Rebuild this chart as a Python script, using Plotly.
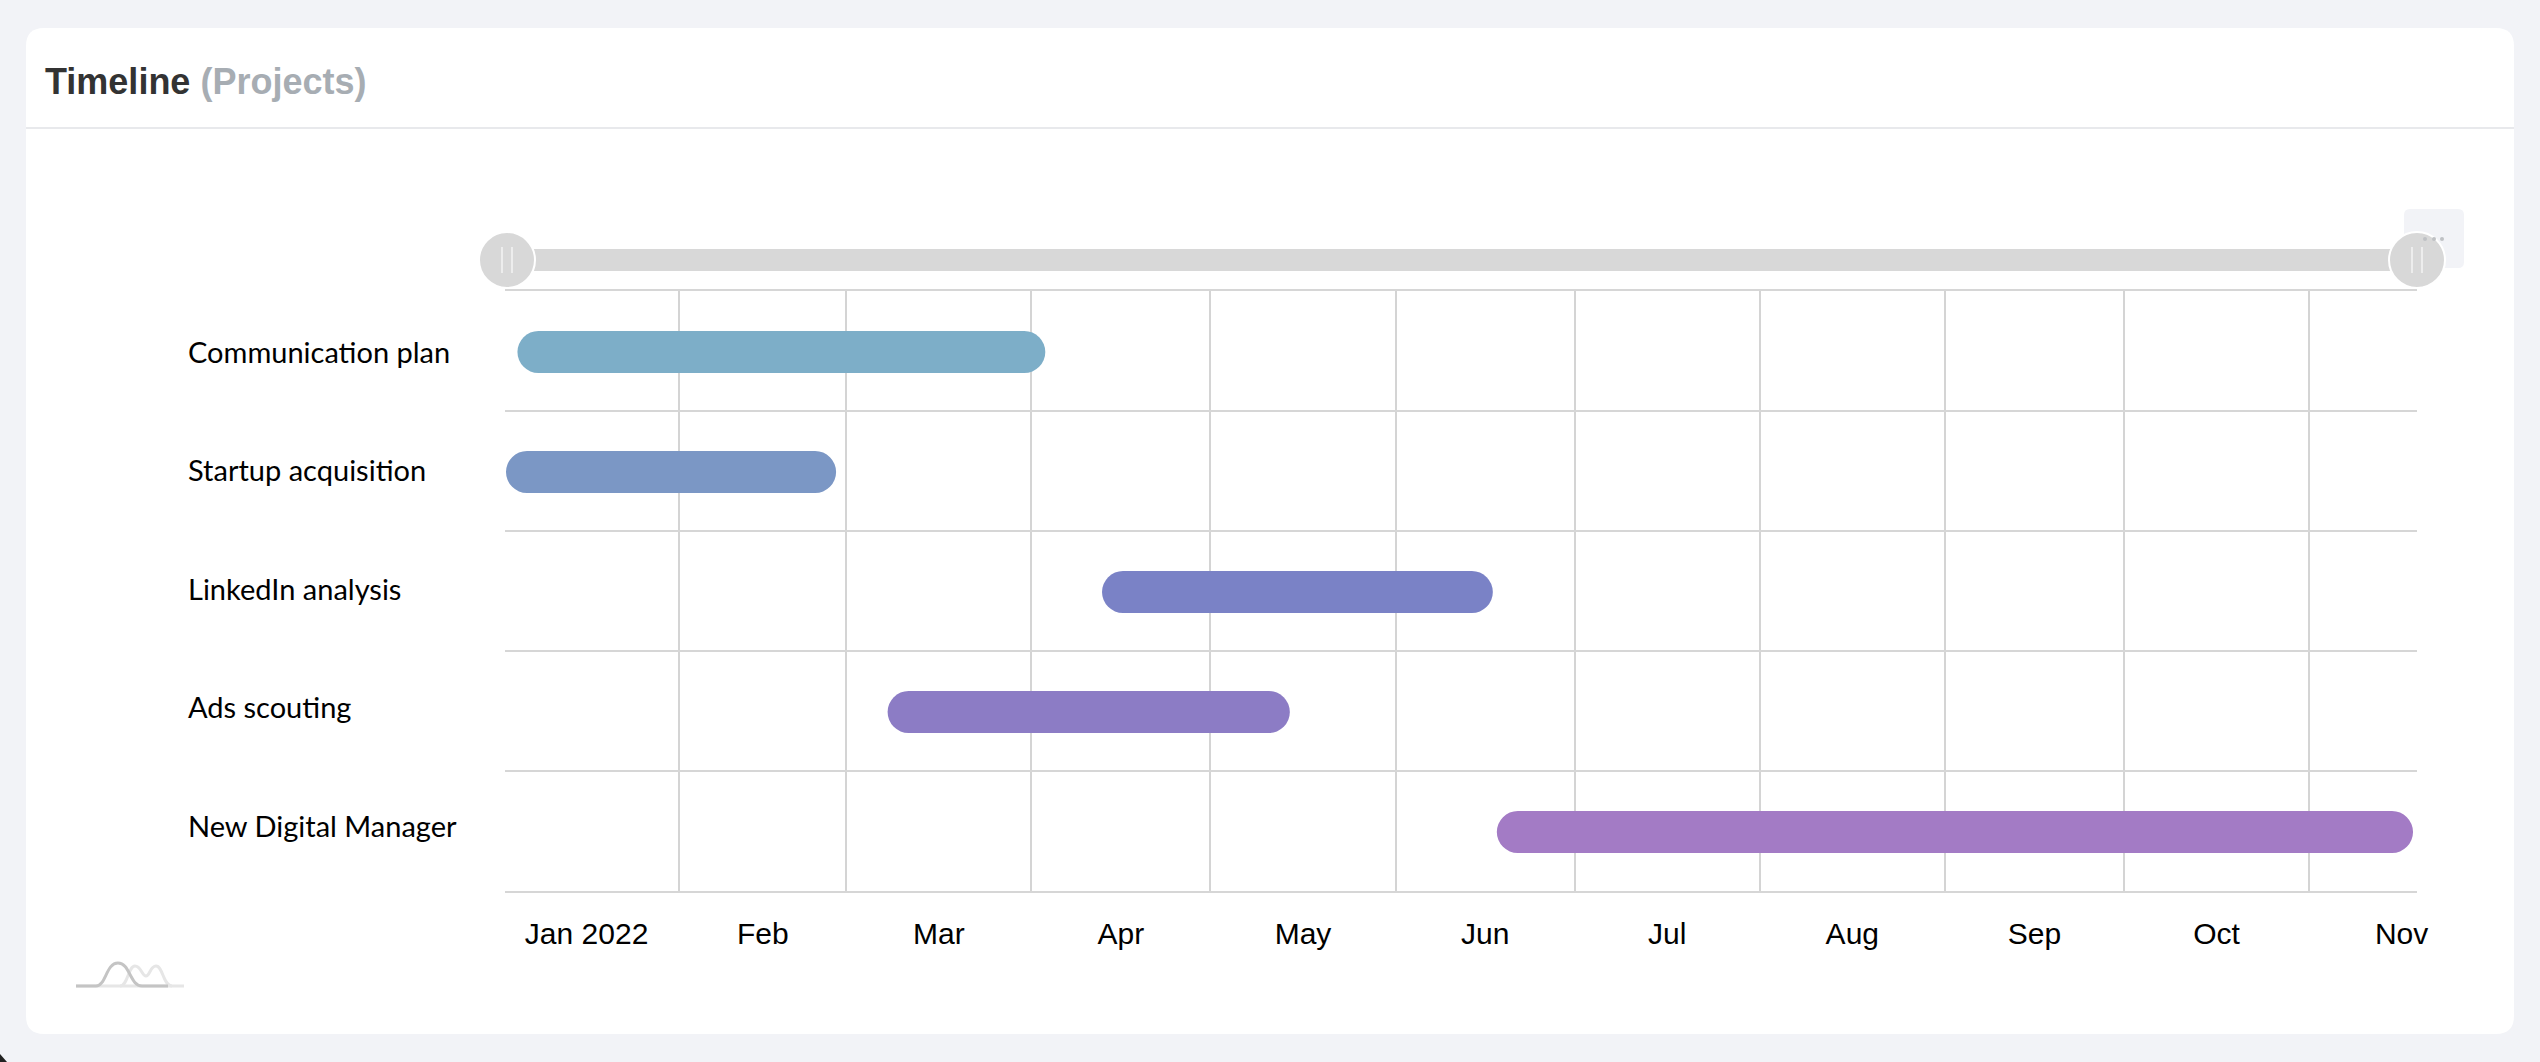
import plotly.graph_objects as go
from datetime import datetime

W, H = 2540, 1062
L, R, T, B = 505, 2417, 291, 891

projects = ["Communication plan", "Startup acquisition", "LinkedIn analysis", "Ads scouting", "New Digital Manager"]
starts = ["2022-01-04 22:00", "2022-01-03 00:00", "2022-04-12 20:00", "2022-03-07 22:00", "2022-06-17 23:00"]
ends = ["2022-04-03 08:00", "2022-02-27 07:00", "2022-06-17 07:00", "2022-05-14 07:00", "2022-11-18 10:00"]
colors = ["#7daec8", "#7b97c5", "#7a82c6", "#8c7cc5", "#a37bc5"]
label_shift = [0, 2, 3, 5, 6]
x_range = ["2022-01-02 20:00", "2022-11-19 02:00"]
month_alias = {"Jan": "Jan 2022"}


def px(x):
    return (x - L) / (R - L)


def py(y):
    return (B - y) / (B - T)


def P(*pts):
    return " ".join(f"{c}{px(x):.6f},{py(y):.6f}" if c != "Z" else "Z" for c, x, y in pts)


def round_rect(x0, y0, x1, y1, r):
    k = r
    return (f"M{px(x0 + k):.6f},{py(y0):.6f} L{px(x1 - k):.6f},{py(y0):.6f} "
            f"Q{px(x1):.6f},{py(y0):.6f} {px(x1):.6f},{py(y0 + k):.6f} "
            f"L{px(x1):.6f},{py(y1 - k):.6f} Q{px(x1):.6f},{py(y1):.6f} {px(x1 - k):.6f},{py(y1):.6f} "
            f"L{px(x0 + k):.6f},{py(y1):.6f} Q{px(x0):.6f},{py(y1):.6f} {px(x0):.6f},{py(y1 - k):.6f} "
            f"L{px(x0):.6f},{py(y0 + k):.6f} Q{px(x0):.6f},{py(y0):.6f} {px(x0 + k):.6f},{py(y0):.6f} Z")


def rect(x0, y0, x1, y1, fill, layer="above"):
    return dict(type="rect", xref="paper", yref="paper", x0=px(x0), x1=px(x1), y0=py(y0), y1=py(y1),
                fillcolor=fill, line_width=0, layer=layer)


def line(x0, y0, x1, y1, color, width, layer="above"):
    return dict(type="line", xref="paper", yref="paper", x0=px(x0), x1=px(x1), y0=py(y0), y1=py(y1),
                line=dict(color=color, width=width), layer=layer)


def circle(cx, cy, r, fill, lcolor=None, lw=0):
    return dict(type="circle", xref="paper", yref="paper", x0=px(cx - r), x1=px(cx + r), y0=py(cy + r), y1=py(cy - r),
                fillcolor=fill, line=dict(color=lcolor or fill, width=lw), layer="above")


durations = [(datetime.fromisoformat(e) - datetime.fromisoformat(s)).total_seconds() * 1000 for s, e in zip(starts, ends)]

fig = go.Figure(go.Bar(
    y=projects, x=durations, base=starts, orientation="h",
    width=0.35, offset=-0.1667,
    marker=dict(color=colors, cornerradius=21, line_width=0),
    hoverinfo="y",
))

shapes = [
    dict(type="path", xref="paper", yref="paper", path=round_rect(26, 28, 2514, 1034, 18), fillcolor="#ffffff",
         line_width=0, layer="below"),
    line(26, 128, 2514, 128, "#e8e9ec", 2, "below"),
    dict(type="path", xref="paper", yref="paper", path=round_rect(2404, 209, 2464, 268, 6), fillcolor="#f2f3f7",
         line_width=0, layer="above"),
]
shapes.append(rect(507, 249, 2417, 271, "#d8d8d8"))
for cx in (507, 2417):
    shapes.append(circle(cx, 260, 28, "#d8d8d8", "#ffffff", 2))
    shapes.append(line(cx - 5, 247, cx - 5, 273, "#f4f4f4", 1.5))
    shapes.append(line(cx + 5, 247, cx + 5, 273, "#f4f4f4", 1.5))
for dx in (2425, 2434, 2442):
    shapes.append(circle(dx, 239, 2, "#bfc1c4"))
# small mark at the lower left
shapes.append(line(76, 986, 184, 986, "#e6e6e6", 3, "below"))
shapes.append(dict(type="path", xref="paper", yref="paper",
                   path=P(("M", 120, 986), ("C", 128, 986), (" ", 128, 966), (" ", 135, 966),
                          ("C", 141, 966), (" ", 142, 976), (" ", 146, 976),
                          ("C", 150, 976), (" ", 150, 966), (" ", 156, 966),
                          ("C", 163, 966), (" ", 163, 986), (" ", 172, 986)),
                   line=dict(color="#e6e6e6", width=3), layer="below"))
shapes.append(dict(type="path", xref="paper", yref="paper",
                   path=P(("M", 76, 986), ("L", 96, 986), ("C", 106, 986), (" ", 106, 963), (" ", 118, 963),
                          ("C", 130, 963), (" ", 130, 986), (" ", 142, 986), ("L", 168, 986)),
                   line=dict(color="#c4c4c4", width=3), layer="below"))
# window corner
shapes.append(dict(type="path", xref="paper", yref="paper",
                   path=P(("M", 0, 1054), ("L", 7, 1062), ("L", 0, 1062), ("Z", 0, 0)),
                   fillcolor="#222222", line_width=0, layer="above"))

annotations = [
    dict(xref="paper", yref="paper", x=px(43), y=py(82), xanchor="left", yanchor="middle", showarrow=False,
         text="<b>Timeline</b> <b><span style='color:#a7adb3'>(Projects)</span></b>",
         font=dict(family="Liberation Sans", size=36, color="#333333")),
]
for name, s in zip(projects, label_shift):
    annotations.append(dict(xref="paper", yref="y", x=px(186), y=name, xanchor="left", yanchor="middle",
                            yshift=s, showarrow=False, text=name,
                            font=dict(family="Lato", size=29, color="#000000")))

fig.update_layout(
    width=W, height=H, autosize=False,
    margin=dict(l=L, r=W - R, t=T, b=H - B, pad=0),
    paper_bgcolor="#f2f3f7", plot_bgcolor="rgba(0,0,0,0)",
    showlegend=False, bargap=0.65,
    shapes=shapes, annotations=annotations,
    font=dict(family="Liberation Sans", color="#000000"),
)
fig.update_xaxes(
    type="date", range=x_range, dtick="M1", tick0="2022-01-01", ticklabelmode="period",
    tickformat="%b", labelalias=month_alias,
    showgrid=True, gridcolor="#d4d4d4", gridwidth=1.5, zeroline=False,
    showline=True, mirror=True, linecolor="#d6d6d6", linewidth=2,
    ticks="outside", ticklen=15, tickcolor="rgba(0,0,0,0)",
    tickfont=dict(family="Liberation Sans", size=30, color="#000000"),
)
fig.update_yaxes(
    type="category", categoryorder="array", categoryarray=projects, range=[4.5, -0.5],
    tickson="boundaries", showgrid=True, gridcolor="#d6d6d6", gridwidth=2,
    zeroline=False, showline=False, ticks="", showticklabels=False,
)

fig.write_html("out.html", config={"displayModeBar": False},
               post_script="document.body.style.margin='0';document.body.style.background='#f2f3f7';")
